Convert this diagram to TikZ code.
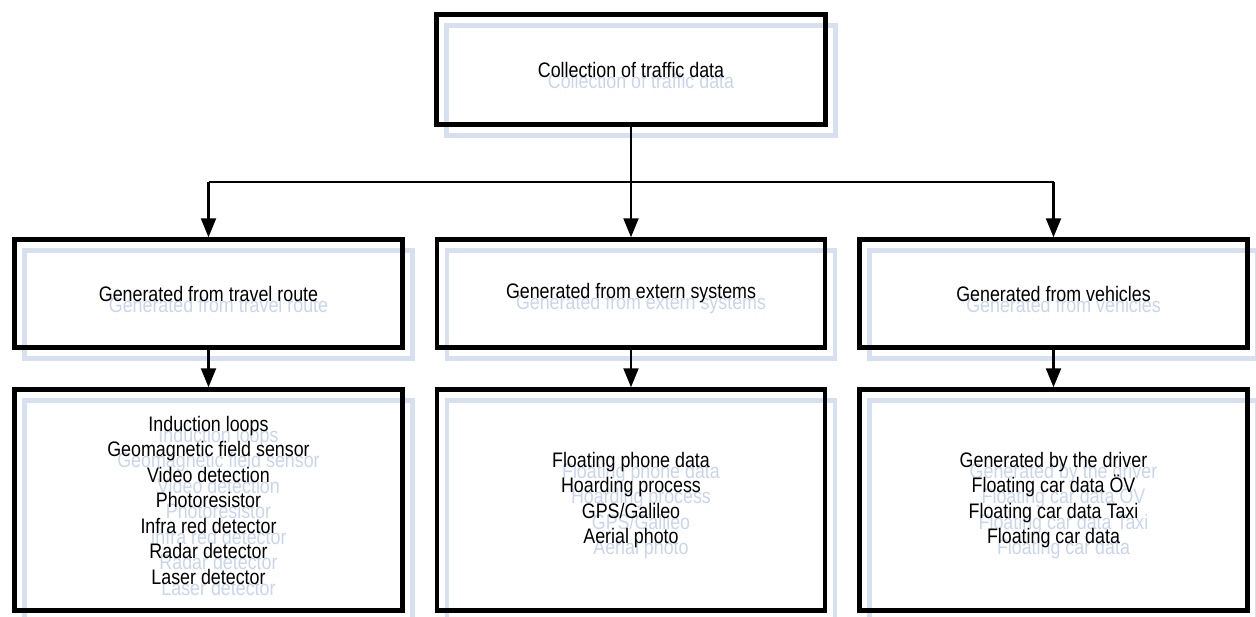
\documentclass[tikz,border=0pt]{standalone}
\usepackage{fontspec}
\setmainfont{Liberation Sans}[FakeStretch=0.85]
\usetikzlibrary{arrows.meta}
\definecolor{ghostline}{RGB}{214,224,241}
\definecolor{ghosttext}{RGB}{200,213,236}
\begin{document}
\begin{tikzpicture}[x=1pt,y=-1pt,
  box/.style={draw=black, line width=4.5pt, align=center, inner sep=0pt,
    font=\fontsize{21}{25.5}\selectfont, text=black},
  ghost/.style={draw=ghostline, line width=4.5pt, align=center, inner sep=0pt,
    font=\fontsize{21}{25.5}\selectfont, text=ghosttext},
  topsz/.style={minimum width=389pt, minimum height=110pt},
  midsz/.style={minimum width=388pt, minimum height=108pt},
  botsz/.style={minimum width=388pt, minimum height=221pt},
  conn/.style={line width=2.2pt, draw=black},
  arr/.style={conn, -{Triangle[width=15pt,length=19pt]}}
]
\useasboundingbox (0,0) rectangle (1256,616);
% ghost (shadow) copies
\node[ghost,topsz] (gtop) at (641,80.5) {Collection of traffic data};
\node[ghost,midsz] (gm1) at (218.5,304.5) {Generated from travel route};
\node[ghost,midsz] (gm2) at (641,304.5) {Generated from extern systems};
\node[ghost,midsz] (gm3) at (1063.5,304.5) {Generated from vehicles};
\node[ghost,botsz] (gb1) at (218.5,511) {Induction loops\\Geomagnetic field sensor\\Video detection\\Photoresistor\\Infra red detector\\Radar detector\\Laser detector};
\node[ghost,botsz] (gb2) at (641,511) {Floating phone data\\Hoarding process\\GPS/Galileo\\Aerial photo};
\node[ghost,botsz] (gb3) at (1063.5,511) {Generated by the driver\\Floating car data ÖV\\Floating car data Taxi\\Floating car data};
% main boxes
\node[box,topsz] (top) at (631,69.5) {Collection of traffic data};
\node[box,midsz] (m1) at (208.5,293.5) {Generated from travel route};
\node[box,midsz] (m2) at (631,293.5) {Generated from extern systems};
\node[box,midsz] (m3) at (1053.5,293.5) {Generated from vehicles};
\node[box,botsz] (b1) at (208.5,500) {Induction loops\\Geomagnetic field sensor\\Video detection\\Photoresistor\\Infra red detector\\Radar detector\\Laser detector};
\node[box,botsz] (b2) at (631,500) {Floating phone data\\Hoarding process\\GPS/Galileo\\Aerial photo};
\node[box,botsz] (b3) at (1053.5,500) {Generated by the driver\\Floating car data ÖV\\Floating car data Taxi\\Floating car data};
% connectors
\coordinate (j) at (631,182);
\coordinate (j1) at (208.5,182);
\coordinate (j3) at (1053.5,182);
\draw[conn] (top.south) -- (j);
\draw[conn] (j1) -- (j3);
\draw[arr] (j1) -- (m1.north);
\draw[arr] (j) -- (m2.north);
\draw[arr] (j3) -- (m3.north);
\draw[arr] (m1.south) -- (b1.north);
\draw[arr] (m2.south) -- (b2.north);
\draw[arr] (m3.south) -- (b3.north);
\end{tikzpicture}
\end{document}
